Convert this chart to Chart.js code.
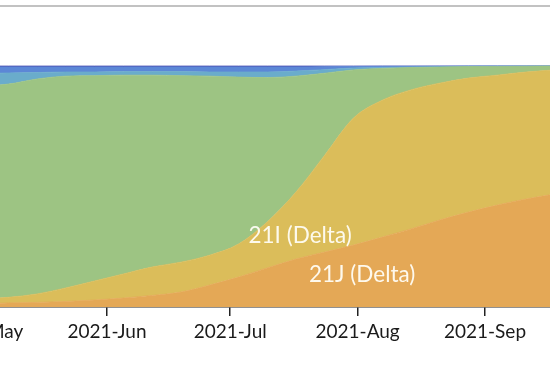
<!DOCTYPE html>
<html><head><meta charset="utf-8">
<script src="https://cdn.jsdelivr.net/npm/chart.js@4"></script>
<style>
html,body{margin:0;padding:0;background:#fff;overflow:hidden;width:550px;height:382px;position:relative}
#wrap{position:absolute;left:-100px;top:0;width:650px;height:382px}
#topline{position:absolute;left:0;top:5px;width:550px;height:2px;background:#c2c2c2;z-index:2}
</style></head><body>
<div id="topline"></div>
<div id="wrap"><canvas id="c" width="650" height="382"></canvas></div>
<script>
// days since 2021-05-01
const days = [-20, 0, 7, 14, 21, 28, 35, 42, 49, 56, 63, 70, 77, 84, 91, 98, 105, 112, 119, 126, 133, 140];
// frequencies in percent, bottom to top
const delta21J = [0.8, 1.2, 1.7, 1.9, 2.3, 2.9, 3.7, 4.8, 6.2, 9.1, 12.4, 16.2, 19.9, 22.8, 25.7, 29.0, 32.4, 36.1, 39.4, 42.3, 44.8, 46.9];
const delta21I = [2.1, 2.1, 2.3, 3.5, 5.6, 7.9, 10.0, 11.8, 12.4, 12.4, 13.7, 19.1, 27.8, 40.2, 52.7, 56.8, 57.7, 56.8, 55.6, 53.9, 52.7, 51.5];
const alpha20I = [88.0, 88.4, 88.5, 89.2, 87.9, 85.2, 82.5, 79.6, 77.4, 74.3, 69.3, 59.9, 48.1, 34.0, 20.0, 13.2, 9.3, 6.65, 4.8, 3.62, 2.4, 1.6];
const otherA = [5.8, 5.2, 4.6, 2.7, 1.7, 1.5, 1.5, 1.5, 1.7, 1.7, 2.1, 2.3, 2.1, 1.5, 0.8, 0.4, 0.2, 0.2, 0.1, 0.1, 0.05, 0.0];
const otherB = [2.9, 2.7, 2.5, 2.3, 2.1, 2.1, 1.9, 1.9, 1.9, 2.1, 2.1, 2.1, 1.7, 1.2, 0.6, 0.5, 0.3, 0.2, 0.1, 0.08, 0.05, 0.0];
const otherC = [0.4, 0.4, 0.4, 0.4, 0.4, 0.4, 0.4, 0.4, 0.4, 0.4, 0.4, 0.4, 0.4, 0.3, 0.2, 0.1, 0.1, 0.05, 0.0, 0.0, 0.0, 0.0];
const seriesNames = ['21J (Delta)', '21I (Delta)', '20I (Alpha, V1)', '20B', '20A', 'other'];
const seriesColors = ['#e4a856', '#dbbd5a', '#9dc483', '#6aaccb', '#5c87d6', '#4d56b6'];
const tickDays = [0, 31, 61, 92, 123];
const tickLabels = ['2021-May', '2021-Jun', '2021-Jul', '2021-Aug', '2021-Sep'];
const areaLabels = ['21I (Delta)', '21J (Delta)'];
const areaLabelAnchors = [{x: 78, y: 29.5}, {x: 93.1, y: 13.3}];

const allSeries = [delta21J, delta21I, alpha20I, otherA, otherB, otherC];
const datasets = allSeries.map((s, k) => ({
  label: seriesNames[k],
  data: days.map((d, i) => ({x: d, y: s[i]})),
  backgroundColor: seriesColors[k],
  borderColor: seriesColors[k],
  borderWidth: 0.8,
  pointRadius: 0,
  fill: k === 0 ? 'origin' : '-1',
  cubicInterpolationMode: 'monotone'
}));

const labelPlugin = {
  id: 'areaLabels',
  afterDatasetsDraw(chart) {
    const ctx = chart.ctx, xs = chart.scales.x, ys = chart.scales.y;
    ctx.save();
    ctx.font = '22.5px Lato';
    ctx.fillStyle = 'rgba(255,253,245,0.95)';
    ctx.textAlign = 'center';
    ctx.textBaseline = 'middle';
    areaLabels.forEach((t, i) => {
      ctx.fillText(t, xs.getPixelForValue(areaLabelAnchors[i].x), ys.getPixelForValue(areaLabelAnchors[i].y));
    });
    ctx.restore();
  }
};

new Chart(document.getElementById('c'), {
  type: 'line',
  data: {datasets},
  plugins: [labelPlugin],
  options: {
    responsive: false,
    animation: false,
    devicePixelRatio: 1,
    layout: {padding: 0},
    plugins: {legend: {display: false}, tooltip: {enabled: false}},
    scales: {
      x: {
        type: 'linear',
        min: -19.37,
        max: 138.82,
        afterBuildTicks: s => { s.ticks = tickDays.map(v => ({value: v})); },
        afterFit: s => { s.paddingLeft = 0; s.paddingRight = 0; s.height = 75; },
        ticks: {
          callback: (v) => { const i = tickDays.indexOf(v); return i >= 0 ? tickLabels[i] : ''; },
          font: {family: 'Lato', size: 19},
          color: '#1a1a1a',
          padding: 4,
          maxRotation: 0,
          autoSkip: false
        },
        grid: {display: true, drawOnChartArea: false, drawTicks: true, tickLength: 9, color: '#222', lineWidth: 1.5},
        border: {display: true, color: '#222', width: 1.5}
      },
      y: {
        display: false,
        stacked: true,
        min: 0,
        max: 127.4
      }
    }
  }
});
</script>
</body></html>
